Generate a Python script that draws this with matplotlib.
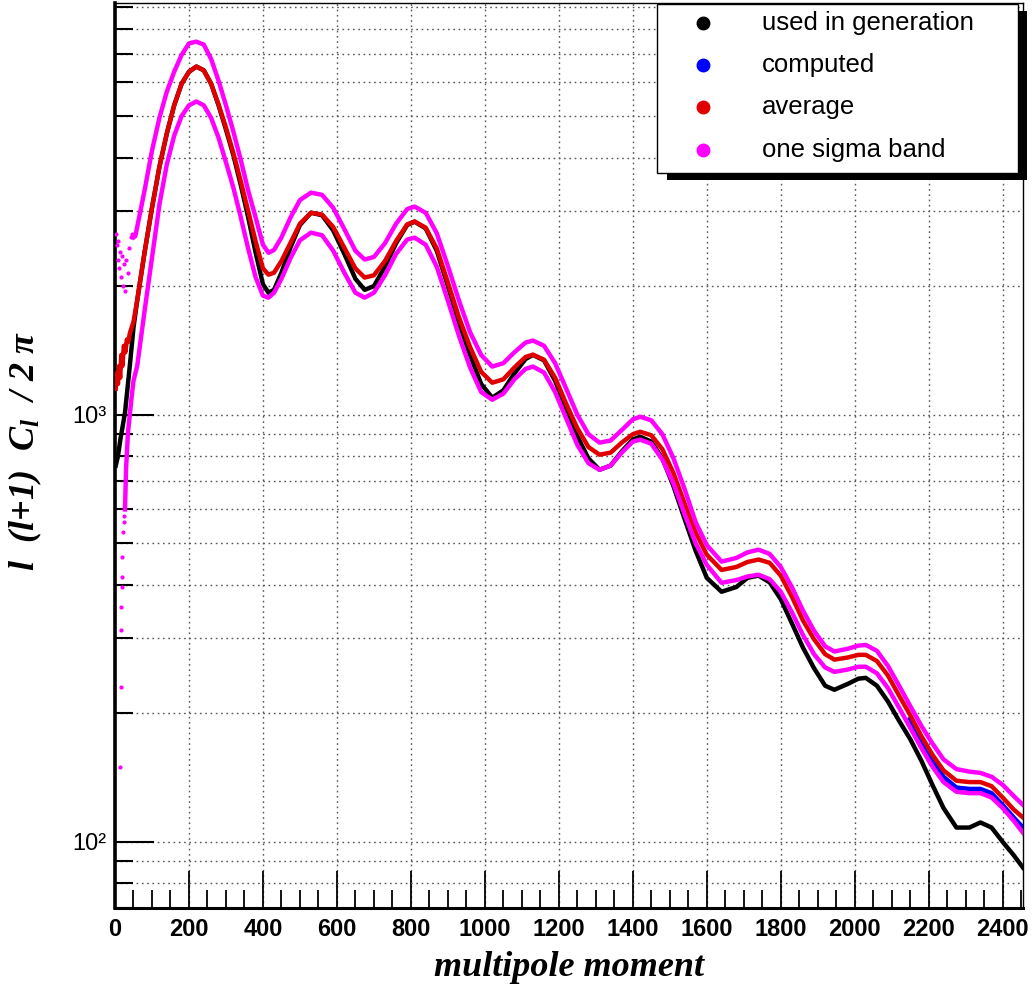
import numpy as np
import matplotlib
matplotlib.use('Agg')
import matplotlib.pyplot as plt
from matplotlib.patches import Rectangle
from matplotlib.lines import Line2D
from matplotlib.ticker import FixedLocator, MultipleLocator, LogLocator, NullFormatter

plt.rcParams['mathtext.fontset'] = 'custom'
plt.rcParams['mathtext.rm'] = 'Liberation Serif:bold:italic'
plt.rcParams['mathtext.it'] = 'Liberation Serif:bold:italic'
plt.rcParams['mathtext.bf'] = 'Liberation Serif:bold:italic'

#=============================
# data
#=============================
ell = [60, 80, 100, 120, 140, 160, 180, 200, 220, 240,
       260, 280, 300, 320, 340, 360, 380, 400, 415, 430,
       450, 475, 500, 530, 560, 590, 620, 650, 675, 700,
       730, 760, 790, 810, 840, 870, 900, 930, 960, 990,
       1020, 1050, 1080, 1110, 1130, 1160, 1190, 1220, 1250, 1280,
       1310, 1340, 1370, 1400, 1420, 1450, 1480, 1510, 1540, 1570,
       1600, 1640, 1680, 1710, 1740, 1770, 1800, 1830, 1860, 1890,
       1920, 1945, 1980, 2010, 2030, 2060, 2090, 2120, 2150, 2180,
       2210, 2240, 2275, 2310, 2340, 2370, 2400, 2430, 2455]

# used in generation (black)
gen_v = [1850, 2400, 3050, 3800, 4550, 5300, 5950, 6350, 6530, 6400,
         5950, 5300, 4650, 4050, 3450, 2900, 2400, 2020, 1930, 1960,
         2150, 2470, 2780, 2970, 2930, 2700, 2380, 2080, 1960, 2000,
         2220, 2520, 2780, 2830, 2730, 2420, 2000, 1640, 1380, 1180,
         1096, 1140, 1250, 1350, 1380, 1340, 1200, 1030, 890, 790,
         743, 760, 820, 875, 888, 865, 790, 680, 570, 480,
         415, 385, 395, 415, 420, 405, 370, 325, 285, 255,
         232, 227, 234, 241, 242, 232, 213, 192, 174, 155,
         136, 120, 108, 108, 111, 108, 100, 93, 87]
gen_head_l = [2, 8, 15, 27, 40, 50]
gen_head_v = [760, 800, 880, 1010, 1300, 1600]

# average (red)
avg_v = [1850, 2400, 3050, 3800, 4550, 5300, 5950, 6350, 6530, 6400,
         5950, 5320, 4700, 4100, 3520, 3000, 2550, 2200, 2127, 2150,
         2290, 2530, 2800, 2970, 2940, 2750, 2460, 2200, 2094, 2120,
         2290, 2550, 2790, 2834, 2740, 2450, 2040, 1690, 1440, 1260,
         1188, 1210, 1290, 1365, 1382, 1345, 1220, 1060, 930, 840,
         806, 815, 860, 900, 912, 895, 830, 730, 620, 530,
         470, 433, 440, 452, 458, 450, 420, 375, 330, 298,
         275, 267, 270, 274, 274, 265, 245, 220, 198, 177,
         160, 147, 139, 138, 138, 135, 127, 119, 114]
avg_head_l = [2, 5, 8, 11, 14, 17, 20, 24, 28, 32, 36, 40, 45, 50]
avg_head_v = [1150, 1250, 1180, 1300, 1220, 1380, 1300, 1450, 1400, 1500, 1480, 1550, 1600, 1650]

# one sigma band, upper and lower (magenta)
hi_v = [2750, 3350, 4150, 4950, 5700, 6350, 6950, 7400, 7470, 7350,
        6800, 6050, 5300, 4600, 3950, 3350, 2900, 2500, 2394, 2430,
        2600, 2900, 3180, 3310, 3270, 3050, 2720, 2420, 2308, 2340,
        2520, 2800, 3030, 3070, 2970, 2660, 2230, 1850, 1560, 1380,
        1296, 1320, 1400, 1475, 1491, 1450, 1320, 1150, 1000, 900,
        860, 870, 920, 975, 989, 970, 900, 790, 670, 560,
        495, 453, 462, 476, 483, 472, 440, 395, 348, 312,
        287, 279, 283, 288, 289, 280, 258, 232, 208, 187,
        170, 156, 148, 146, 145, 142, 136, 128, 122]
hi_head_l = [50, 55]
hi_head_v = [2600, 2620]
hi_scat_l = [3, 5, 7, 9, 11, 13, 16, 19, 22, 25, 28, 31, 35, 39, 43, 47]
hi_scat_v = [2650, 2500, 2300, 2550, 2200, 2400, 2100, 2350, 2000, 2250, 1950, 2300, 2150, 2450, 2600, 2650]

lo_v = [1300, 1750, 2330, 3100, 3850, 4500, 5000, 5300, 5410, 5300,
        4950, 4450, 3900, 3400, 2900, 2450, 2100, 1900, 1879, 1930,
        2080, 2330, 2560, 2668, 2630, 2420, 2150, 1930, 1879, 1930,
        2120, 2380, 2570, 2597, 2500, 2220, 1850, 1530, 1290, 1130,
        1084, 1120, 1210, 1280, 1296, 1255, 1130, 980, 850, 770,
        743, 760, 815, 865, 874, 855, 785, 690, 585, 500,
        445, 404, 410, 418, 422, 412, 385, 345, 305, 275,
        256, 250, 253, 257, 257, 248, 229, 206, 185, 166,
        150, 138, 131, 130, 130, 127, 120, 112, 105]
lo_head_l = [27, 30, 35, 40, 45, 50]
lo_head_v = [600, 750, 907, 1000, 1100, 1200]
lo_scat_l = [14, 15, 16, 17, 18, 19, 20, 21, 23, 25]
lo_scat_v = [150, 230, 314, 355, 395, 417, 465, 530, 560, 580]

# computed (blue), only visible at the high-l end
comp_l = [2150, 2180, 2210, 2240, 2275, 2310, 2340, 2370, 2400, 2430, 2455]
comp_v = [194, 172, 155, 142, 134, 133, 133, 130, 122, 114, 108]

labels = ['used in generation', 'computed', 'average', 'one sigma band']
colors = ['black', '#0000ff', '#e00000', '#ff00ff']

#=============================
# plot
#=============================
W, H = 1036, 1001
fig = plt.figure(figsize=(W / 100., H / 100.), dpi=100)
ax = fig.add_axes([115. / W, (H - 908.) / H, (1023. - 115.) / W, (908. - 3.) / H])

lw = 3.2
ax.plot(gen_head_l + ell, gen_head_v + gen_v, '-', color=colors[0], lw=lw, zorder=3)
ax.plot(comp_l, comp_v, '-', color=colors[1], lw=lw, zorder=3.5)
ax.plot(avg_head_l + ell, avg_head_v + avg_v, '-', color=colors[2], lw=lw, zorder=4)
ax.plot(hi_head_l + ell, hi_head_v + hi_v, '-', color=colors[3], lw=lw, zorder=5)
ax.plot(lo_head_l + ell, lo_head_v + lo_v, '-', color=colors[3], lw=lw, zorder=5)
ax.plot(hi_scat_l, hi_scat_v, '.', color=colors[3], ms=4, zorder=5)
ax.plot(lo_scat_l, lo_scat_v, '.', color=colors[3], ms=4, zorder=5)

ax.set_yscale('log')
ax.set_xlim(0, 2455)
ax.set_ylim(70, 9200)

ax.xaxis.set_major_locator(MultipleLocator(200))
ax.xaxis.set_minor_locator(MultipleLocator(50))
ax.yaxis.set_major_locator(FixedLocator([100, 1000]))
ax.yaxis.set_minor_locator(LogLocator(base=10, subs=np.arange(2, 10)))
ax.yaxis.set_minor_formatter(NullFormatter())
ax.set_yticklabels(['10\u00b2', '10\u00b3'], family='Liberation Sans', fontsize=17)
for t in ax.get_xticklabels():
    t.set_family('Liberation Sans')
    t.set_fontweight('bold')
    t.set_fontsize(17)

ax.tick_params(axis='x', which='major', direction='in', length=27, width=1.3, pad=7)
ax.tick_params(axis='x', which='minor', direction='in', length=13, width=1.3)
ax.tick_params(axis='y', which='major', direction='in', length=28, width=1.5, pad=6)
ax.tick_params(axis='y', which='minor', direction='in', length=13, width=1.5)

gstyle = dict(color='#555555', linestyle=(0, (1.2, 2.6)), lw=1.0)
ax.grid(True, axis='x', which='major', **gstyle)
ax.grid(True, axis='y', which='both', **gstyle)
ax.set_axisbelow(True)

ax.spines['left'].set_linewidth(2.6)
ax.spines['bottom'].set_linewidth(2.2)
ax.spines['top'].set_linewidth(1.0)
ax.spines['right'].set_linewidth(1.0)

ax.set_xlabel('multipole moment', family='Liberation Serif', style='italic',
              fontweight='bold', fontsize=26)
ax.xaxis.set_label_coords(0.5, -0.048)
ax.set_ylabel(r'$l\ \ (l{+}1)\ \ C_{l}\ \ /\ 2\ \pi$', fontsize=26)
ax.yaxis.set_label_coords(-0.078, 0.505)

# legend box with ROOT-like shadow
def fx(px):
    return px / float(W)

def fy(py):
    return (H - py) / float(H)

fig.add_artist(Rectangle((fx(667), fy(180)), fx(1027) - fx(667), fy(11) - fy(180),
                         transform=fig.transFigure, facecolor='black', edgecolor='none', zorder=10))
fig.add_artist(Rectangle((fx(657), fy(173)), fx(1018) - fx(657), fy(4) - fy(173),
                         transform=fig.transFigure, facecolor='white', edgecolor='black',
                         lw=1.0, zorder=11))
rows = [23, 65, 107, 150]
for lab, col, yy in zip(labels, colors, rows):
    fig.add_artist(Line2D([fx(703)], [fy(yy)], marker='o', ms=9, color=col, ls='none',
                          transform=fig.transFigure, zorder=12))
    fig.text(fx(762), fy(yy), lab, family='Liberation Sans', fontsize=18.5,
             va='center', ha='left', zorder=12)

plt.savefig('out.png', dpi=100)
